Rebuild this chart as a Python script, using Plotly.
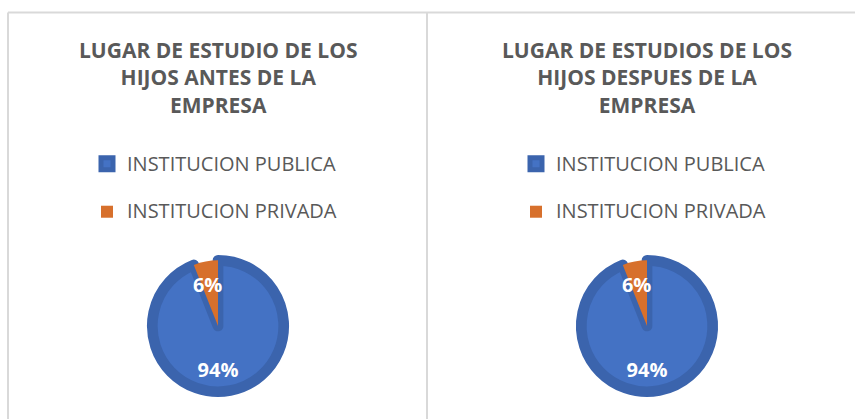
import plotly.graph_objects as go

# ---- data ----
categories = ["INSTITUCION PUBLICA", "INSTITUCION PRIVADA"]
values_antes = [94, 6]
values_despues = [94, 6]
titles = [
    "LUGAR DE ESTUDIO DE LOS<br>HIJOS ANTES DE LA<br>EMPRESA",
    "LUGAR DE ESTUDIOS DE LOS<br>HIJOS DESPUES DE LA<br>EMPRESA",
]

W, H = 855, 419
BLUE = "#4472C4"
BLUE_DARK = "#3B64AD"
ORANGE = "#D7702C"
GRAY = "#595959"
FONT = "Open Sans"


def px(x):
    return x / W


def py(y):
    return 1 - y / H


# legend labels: first line at 20px, a second empty line gives each entry its height.
# The two pies get slightly different markup so each legend keeps its own entries.
def legend_labels(k):
    sp = " " * k
    return [f"<span style='font-size:{sp}20px'>{c}</span><br>" for c in categories]


R = 65.7
centers = [(218, 326), (647, 326)]
legend_x0 = [87, 516]
title_cx = [217.5, 647]

fig = go.Figure()
for i, vals in enumerate([values_antes, values_despues]):
    cx, cy = centers[i]
    fig.add_trace(go.Pie(
        labels=legend_labels(i),
        values=vals,
        sort=False,
        direction="clockwise",
        rotation=0,
        marker=dict(colors=[BLUE, ORANGE],
                    line=dict(color=[BLUE_DARK, ORANGE], width=[10.7, 0])),
        # a blank first line nudges the visible percentage a little lower in the slice
        texttemplate="\u00a0<br>%{percent:.0%}",
        textposition="inside",
        insidetextorientation="horizontal",
        insidetextfont=dict(family=FONT, size=20, color="white", weight="bold"),
        domain=dict(x=[px(cx - R), px(cx + R)], y=[py(cy + R), py(cy - R)]),
        legend="legend" if i == 0 else "legend2",
        showlegend=True,
        hoverinfo="percent",
    ))

legend_common = dict(
    font=dict(family=FONT, size=17.3, color=GRAY),
    bgcolor="rgba(0,0,0,0)",
    orientation="v",
    valign="top",
    xanchor="left",
    yanchor="top",
    y=py(146),
    traceorder="normal",
)

annotations = []
for i, t in enumerate(titles):
    annotations.append(dict(
        text=t, x=px(title_cx[i]), y=py(77), xref="paper", yref="paper",
        xanchor="center", yanchor="middle", showarrow=False, align="center",
        font=dict(family=FONT, size=21, color=GRAY, weight="bold"),
    ))

line_col = "#D9D9D9"
shapes = [
    dict(type="line", xref="paper", yref="paper", x0=px(8), x1=px(W), y0=py(12.5), y1=py(12.5),
         line=dict(color=line_col, width=2)),
    dict(type="line", xref="paper", yref="paper", x0=px(8), x1=px(8), y0=py(12.5), y1=py(H),
         line=dict(color=line_col, width=2)),
    dict(type="line", xref="paper", yref="paper", x0=px(427), x1=px(427), y0=py(12.5), y1=py(H),
         line=dict(color=line_col, width=2)),
]

fig.update_layout(
    width=W, height=H,
    margin=dict(l=0, r=0, t=0, b=0),
    paper_bgcolor="white",
    plot_bgcolor="white",
    legend=dict(legend_common, x=px(legend_x0[0])),
    legend2=dict(legend_common, x=px(legend_x0[1])),
    uniformtext=dict(minsize=20, mode="show"),
    annotations=annotations,
    shapes=shapes,
)

fig.write_html("out.html", config={"displayModeBar": False},
               post_script="document.body.style.margin='0';")
